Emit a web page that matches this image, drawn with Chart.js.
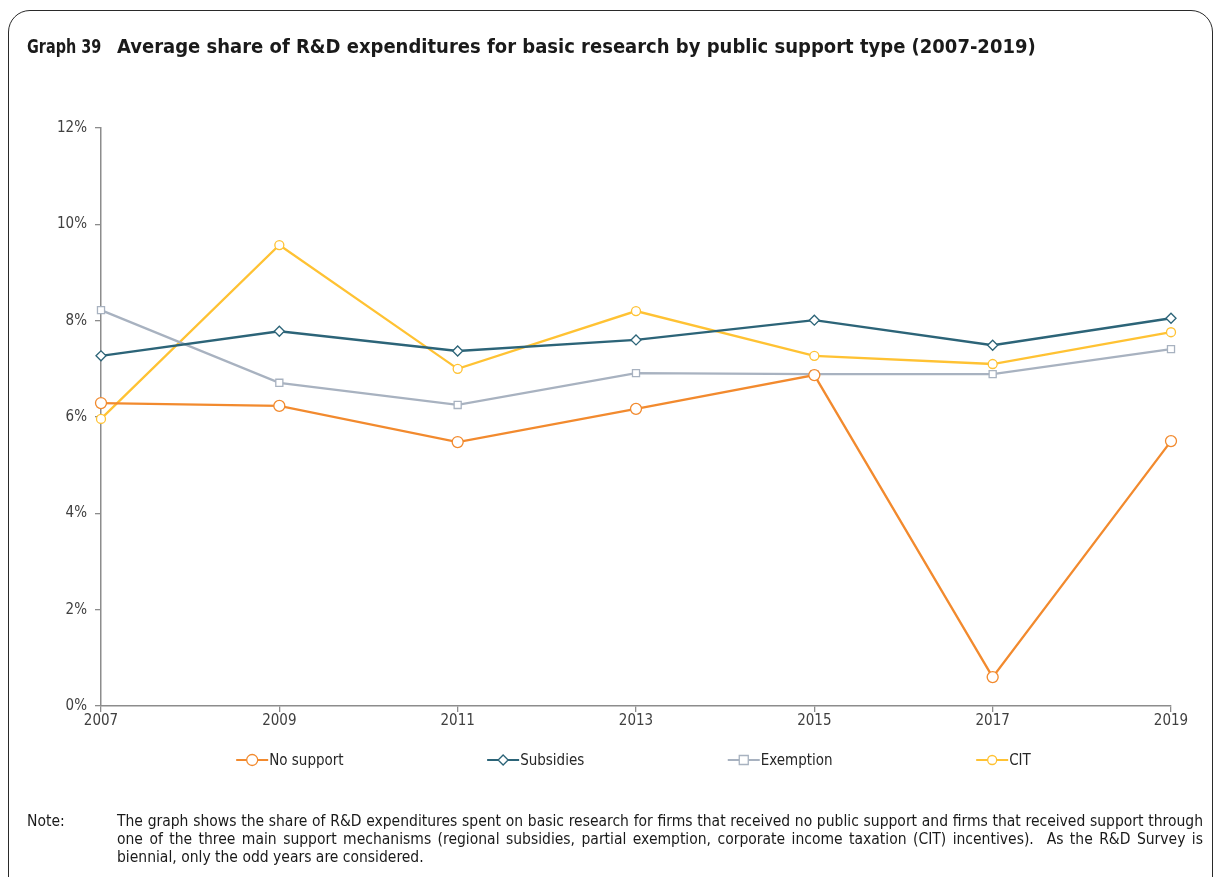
<!DOCTYPE html>
<html>
<head>
<meta charset="utf-8">
<script src="https://cdn.jsdelivr.net/npm/chart.js@4"></script>
<style>
  html, body { margin: 0; padding: 0; background: #fff; }
  body { width: 1215px; height: 877px; position: relative; overflow: hidden; font-family: "DejaVu Sans Condensed", "DejaVu Sans", sans-serif; color: #1a1a1a; }
  #frame { position: absolute; left: 8px; top: 10px; width: 1205px; height: 900px; border: 1.5px solid #2a2a2a; border-radius: 22px; box-sizing: border-box; }
  #title { position: absolute; left: 27px; top: 34px; font-size: 20px; font-weight: bold; white-space: nowrap; height: 26px; width: 1100px; }
  #title .num { position: absolute; left: 0; top: 0; display: inline-block; transform: scaleX(0.8); transform-origin: 0 50%; }
  #title .main { position: absolute; left: 90px; top: 0; }
  #canvasWrap { position: absolute; left: 0; top: 0; width: 1215px; height: 877px; }
  #note { position: absolute; left: 27px; top: 812px; width: 1176px; font-size: 15.5px; line-height: 18px; }
  #note .lbl { position: absolute; left: 0; top: 0; }
  #note .txt { margin-left: 90px; text-align: justify; }
</style>
</head>
<body>
<div id="frame"></div>
<div id="canvasWrap"><canvas id="c" width="1215" height="877"></canvas></div>
<div id="title"><span class="num">Graph 39</span><span class="main">Average share of R&amp;D expenditures for basic research by public support type (2007-2019)</span></div>
<div id="note"><span class="lbl">Note:</span><div class="txt">The graph shows the share of R&amp;D expenditures spent on basic research for firms that received no public support and firms that received support through one of the three main support mechanisms (regional subsidies, partial exemption, corporate income taxation (CIT) incentives).&nbsp; As the R&amp;D Survey is biennial, only the odd years are considered.</div></div>
<script>
const years = ["2007", "2009", "2011", "2013", "2015", "2017", "2019"];
const noSupport = [6.29, 6.23, 5.48, 6.17, 6.87, 0.60, 5.50];
const subsidies = [7.27, 7.78, 7.37, 7.60, 8.01, 7.49, 8.05];
const exemption = [8.22, 6.71, 6.25, 6.91, 6.89, 6.89, 7.41];
const cit = [5.96, 9.57, 7.00, 8.20, 7.27, 7.10, 7.76];
const seriesNames = ["No support", "Subsidies", "Exemption", "CIT"];
const yTicks = [0, 2, 4, 6, 8, 10, 12];

const colors = ["#F28A2E", "#2C6478", "#A8B2C0", "#FFC233"];
const styles = ["circle", "rectRot", "rect", "circle"];
const radii = [5.5, 5, 5, 4.5];
const fontFamily = '"DejaVu Sans Condensed", "DejaVu Sans", sans-serif';

function drawMarker(g, style, x, y, r, color) {
  g.save();
  g.fillStyle = '#fff'; g.strokeStyle = color; g.lineWidth = 1.3;
  g.beginPath();
  if (style === 'circle') { g.arc(x, y, r, 0, Math.PI * 2); }
  else if (style === 'rect') { g.rect(x - r * 0.9, y - r * 0.9, r * 1.8, r * 1.8); }
  else { g.moveTo(x, y - r); g.lineTo(x + r, y); g.lineTo(x, y + r); g.lineTo(x - r, y); g.closePath(); }
  g.fill(); g.stroke();
  g.restore();
}

const customLegend = {
  id: 'customLegend',
  afterDraw(chart) {
    const g = chart.ctx;
    const area = chart.chartArea;
    const y = area.bottom + 54;
    const iconW = 32, textGap = 1, itemGap = 143.5;
    g.save();
    g.font = '15px ' + fontFamily;
    const widths = chart.data.datasets.map(ds => iconW + textGap + g.measureText(ds.label).width);
    const total = widths.reduce((a, b) => a + b, 0) + itemGap * (widths.length - 1);
    let x = (area.left + area.right) / 2 - 2.5 - total / 2;
    chart.data.datasets.forEach((ds, i) => {
      g.strokeStyle = colors[i]; g.lineWidth = 2.2;
      g.beginPath(); g.moveTo(x, y); g.lineTo(x + iconW, y); g.stroke();
      drawMarker(g, styles[i], x + iconW / 2, y, radii[i], colors[i]);
      g.fillStyle = '#262626'; g.textBaseline = 'middle'; g.textAlign = 'left';
      g.fillText(ds.label, x + iconW + textGap, y + 1);
      x += widths[i] + itemGap;
    });
    g.restore();
  }
};

const allData = [noSupport, subsidies, exemption, cit];
const datasets = allData.map((d, i) => ({
  label: seriesNames[i],
  data: d,
  borderColor: colors[i],
  backgroundColor: '#ffffff',
  borderWidth: 2.3,
  pointStyle: styles[i],
  pointRadius: radii[i],
  pointBorderWidth: 1.3,
  pointBackgroundColor: '#ffffff',
  pointBorderColor: colors[i],
  tension: 0,
  clip: false
}));

const font = { family: fontFamily, size: 15 };

new Chart(document.getElementById('c'), {
  type: 'line',
  data: { labels: years, datasets: datasets },
  plugins: [customLegend],
  options: {
    responsive: false,
    animation: false,
    layout: { padding: { left: 0, right: 44, top: 128, bottom: 143 } },
    plugins: {
      title: { display: false },
      tooltip: { enabled: false },
      legend: { display: false }
    },
    scales: {
      x: {
        offset: false,
        grid: { display: true, drawOnChartArea: false, drawTicks: true, tickLength: 6, color: '#8c8c8c', lineWidth: 1.3 },
        border: { display: true, color: '#8c8c8c', width: 1.5 },
        ticks: { color: '#404040', font: font, padding: 0, maxRotation: 0 },
        afterFit: (s) => { s.height = 28; }
      },
      y: {
        min: 0, max: 12,
        afterBuildTicks: (s) => { s.ticks = yTicks.map(v => ({ value: v })); },
        grid: { display: true, drawOnChartArea: false, drawTicks: true, tickLength: 6, color: '#8c8c8c', lineWidth: 1.3 },
        border: { display: true, color: '#8c8c8c', width: 1.5 },
        ticks: { color: '#404040', font: font, padding: 8, callback: (v) => v + '%' },
        afterFit: (s) => { s.width = 101; }
      }
    }
  }
});
</script>
</body>
</html>
